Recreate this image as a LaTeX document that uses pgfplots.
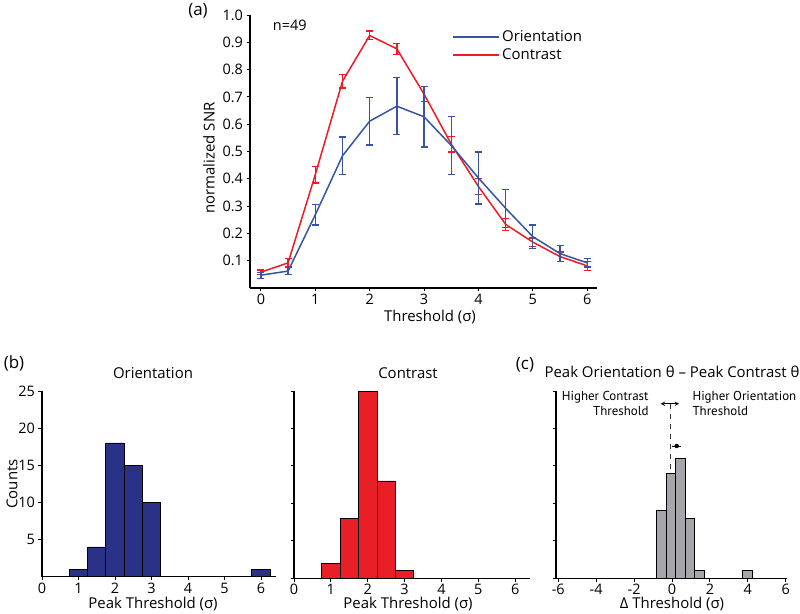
\documentclass[border=0pt]{standalone}
\usepackage{fontspec}
\setmainfont{Open Sans}
\newfontfamily\narrowfont{PT Sans}
\usepackage{pgfplots}
\pgfplotsset{compat=1.18}
\definecolor{oblue}{RGB}{55,84,164}
\definecolor{cred}{RGB}{237,28,36}
\definecolor{navybar}{RGB}{42,50,135}
\definecolor{redbar}{RGB}{234,30,38}
\definecolor{graybar}{RGB}{165,165,170}
\pgfplotsset{
  myaxis/.style={
    scale only axis, anchor=south west,
    axis x line*=bottom, axis y line*=left,
    axis line style={line width=1.1bp, black},
    tick style={line width=0.9bp, black},
    tick align=outside, major tick length=3.5bp,
    every tick label/.append style={font=\fontsize{14.5}{16}\selectfont},
    xticklabel style={yshift=1bp},
    /pgf/number format/assume math mode=true,
    clip=false,
  },
}
\begin{document}
\begin{tikzpicture}
\path[use as bounding box] (0,0) rectangle (800bp,614bp);

% ---------------- panel (a)
\begin{axis}[myaxis, at={(250bp,326bp)}, width=347bp, height=273bp,
  xmin=-0.2, xmax=6.18, ymin=0, ymax=1.0,
  xtick={0,1,2,3,4,5,6},
  ytick={0.1,0.2,0.3,0.4,0.5,0.6,0.7,0.8,0.9,1.0},
  yticklabel style={/pgf/number format/.cd, fixed, fixed zerofill, precision=1},
  legend style={draw=none, fill=none, at={(0.582,0.95)}, anchor=north west,
    inner sep=0pt, row sep=1.5bp, font=\fontsize{15}{17}\selectfont,
    cells={anchor=west}},
  legend image code/.code={\draw[line width=2bp, #1] (0bp,0bp) -- (46bp,0bp);},
  ]
\addplot[cred, line width=1.5bp, forget plot,
  error bars/.cd, y dir=both, y explicit,
  error bar style={line width=1.3bp},
  error mark options={rotate=90, mark size=3.5bp, line width=1.3bp, cred}]
coordinates {
 (0,0.058) +- (0,0.008)
 (0.5,0.092) +- (0,0.015)
 (1,0.415) +- (0,0.030)
 (1.5,0.757) +- (0,0.024)
 (2,0.925) +- (0,0.016)
 (2.5,0.876) +- (0,0.020)
 (3,0.710) +- (0,0.027)
 (3.5,0.527) +- (0,0.029)
 (4,0.372) +- (0,0.029)
 (4.5,0.233) +- (0,0.022)
 (5,0.168) +- (0,0.015)
 (5.5,0.115) +- (0,0.017)
 (6,0.081) +- (0,0.017)
};
\addplot[oblue, line width=1.5bp, forget plot,
  error bars/.cd, y dir=both, y explicit,
  error bar style={line width=1.3bp},
  error mark options={rotate=90, mark size=3.5bp, line width=1.3bp, oblue}]
coordinates {
 (0,0.047) +- (0,0.011)
 (0.5,0.062) +- (0,0.013)
 (1,0.268) +- (0,0.037)
 (1.5,0.484) +- (0,0.069)
 (2,0.611) +- (0,0.087)
 (2.5,0.666) +- (0,0.105)
 (3,0.627) +- (0,0.110)
 (3.5,0.522) +- (0,0.107)
 (4,0.403) +- (0,0.095)
 (4.5,0.292) +- (0,0.070)
 (5,0.188) +- (0,0.043)
 (5.5,0.126) +- (0,0.030)
 (6,0.092) +- (0,0.015)
};
\addlegendimage{draw=oblue}
\addlegendentry{Orientation}
\addlegendimage{draw=cred}
\addlegendentry{Contrast}
\node[font=\fontsize{14.5}{16}\selectfont] at (axis cs:0.53,0.963) {n=49};
\end{axis}

% ---------------- panel (b) Orientation
\begin{axis}[myaxis, at={(42bp,37.3bp)}, width=233.6bp, height=185.7bp,
  xmin=0, xmax=6.4, ymin=0, ymax=25,
  xtick={0,1,2,3,4,5,6}, ytick={5,10,15,20,25},
  ybar, bar width=0.5]
\addplot[draw=black, line width=0.8bp, fill=navybar] coordinates {
 (1,1) (1.5,4) (2,18) (2.5,15) (3,10) (6,1)
};
\end{axis}

% ---------------- panel (b) Contrast
\begin{axis}[myaxis, at={(294bp,35.7bp)}, width=236bp, height=187.3bp,
  xmin=0, xmax=6.4, ymin=0, ymax=25,
  xtick={0,1,2,3,4,5,6}, ytick={0,5,10,15,20,25}, yticklabels={},
  ybar, bar width=0.5]
\addplot[draw=black, line width=0.8bp, fill=redbar] coordinates {
 (1,2) (1.5,8) (2,25) (2.5,13) (3,1)
};
\end{axis}

% ---------------- panel (c)
\begin{axis}[myaxis, at={(556bp,35.7bp)}, width=231bp, height=187.3bp,
  xmin=-6.12, xmax=6.07, ymin=0, ymax=25,
  xtick={-6,-4,-2,0,2,4,6}, ytick={0,5,10,15,20,25}, yticklabels={},
  ]
\addplot[ybar, bar width=0.5, draw=black, line width=0.8bp, fill=graybar] coordinates {
 (-0.55,9) (-0.05,14) (0.45,16) (0.95,8) (1.45,1) (3.98,1)
};
\draw[black!80, line width=0.9bp, dash pattern=on 5bp off 5bp] (axis cs:-0.1,23.3) -- (axis cs:-0.1,14);
\draw[black, line width=1bp, <->, >=stealth] (axis cs:-0.6,23.3) -- (axis cs:0.38,23.3);
\addplot[black, only marks, mark=*, mark size=2bp,
  error bars/.cd, x dir=both, x explicit,
  error bar style={line width=0.9bp},
  error mark options={rotate=90, mark size=0pt}]
 coordinates {(0.25,17.66) +- (0.23,0)};
\node[anchor=east, align=right, font=\narrowfont\fontsize{13}{15.5}\selectfont] at (axis cs:-1.05,23.3) {Higher Contrast\\Threshold};
\node[anchor=west, align=left, font=\narrowfont\fontsize{13}{15.5}\selectfont] at (axis cs:0.9,23.3) {Higher Orientation\\Threshold};
\end{axis}

% ---------------- labels
\node[font=\fontsize{17}{19}\selectfont] at (198bp,603bp) {(a)};
\node[font=\fontsize{15}{17}\selectfont] at (430bp,297bp) {Threshold (σ)};
\node[font=\fontsize{15}{17}\selectfont, rotate=90] at (209bp,456bp) {normalized SNR};

\node[font=\fontsize{17}{19}\selectfont] at (14bp,251bp) {(b)};
\node[font=\fontsize{15}{17}\selectfont] at (153bp,241bp) {Orientation};
\node[font=\fontsize{15}{17}\selectfont] at (408bp,241bp) {Contrast};
\node[font=\fontsize{15}{17}\selectfont, rotate=90] at (12bp,130bp) {Counts};
\node[font=\fontsize{15}{17}\selectfont] at (153bp,10bp) {Peak Threshold (σ)};
\node[font=\fontsize{15}{17}\selectfont] at (408bp,10bp) {Peak Threshold (σ)};

\node[font=\fontsize{17}{19}\selectfont] at (525bp,249bp) {(c)};
\node[font=\fontsize{15}{17}\selectfont] at (672bp,242bp) {Peak Orientation θ – Peak Contrast θ};
\node[font=\fontsize{15}{17}\selectfont] at (672bp,10bp) {Δ Threshold (σ)};
\end{tikzpicture}
\end{document}
